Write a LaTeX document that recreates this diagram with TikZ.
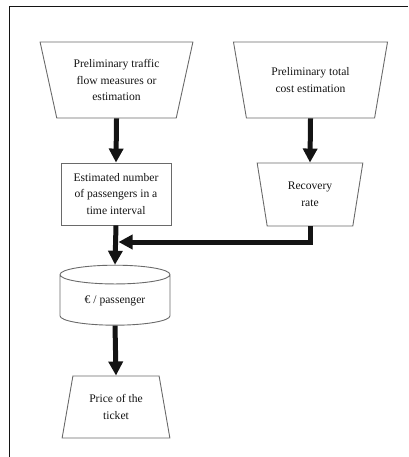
\documentclass[tikz,border=0pt]{standalone}
\usepackage{fontspec}
\setmainfont{Liberation Serif}
\usepackage{xcolor}
\usepackage{tikz}
\usetikzlibrary{arrows.meta,shapes.geometric}
\definecolor{edge}{HTML}{6A6A6A}
\definecolor{ink}{HTML}{141414}
\tikzset{
  box/.style={draw=edge, line width=0.9pt, text=ink, align=center, inner sep=1pt,
    font=\fontsize{11.6}{16.5}\selectfont},
  trap/.style={box, trapezium, trapezium stretches=true},
  flow/.style={draw=ink, line width=5pt, -{Triangle[length=14pt,width=14pt]}},
  frame/.style={draw=ink, line width=1pt},
}
\begin{document}
\begin{tikzpicture}[x=1pt,y=-1pt]
  \useasboundingbox (0,0) rectangle (408,457);
  \draw[frame] (9,457) -- (9,7) -- (408,7);
  % inputs
  \node[trap, shape border rotate=180, minimum width=153pt, minimum height=76pt,
    trapezium left angle=74.2, trapezium right angle=74.2] (traffic) at (116.5,80)
    {Preliminary traffic\\flow measures or\\estimation};
  \node[trap, shape border rotate=180, minimum width=155pt, minimum height=76pt,
    trapezium left angle=73.1, trapezium right angle=73.1] (cost) at (310.5,80)
    {Preliminary total\\cost estimation};
  \node[box, rectangle, minimum width=110pt, minimum height=62pt] (pass) at (116,194)
    {Estimated number\\of passengers in a\\time interval};
  \node[trap, shape border rotate=180, minimum width=106pt, minimum height=63pt,
    trapezium left angle=78.3, trapezium right angle=78.3] (rate) at (310,194.5)
    {Recovery\\rate};
  \node[box, cylinder, shape border rotate=90, aspect=0.3, minimum width=110pt,
    minimum height=60pt] (eur) at (115,301) {€ / passenger};
  \node[trap, minimum width=108pt, minimum height=62pt,
    trapezium left angle=75.5, trapezium right angle=75.5] (price) at (116,407)
    {Price of the\\ticket};
  % arrows
  \coordinate (join) at (118.5,242);
  \draw[flow] (traffic.south) -- (pass.north);
  \draw[flow] (cost.south) -- (rate.north);
  \draw[flow] (rate.south) |- (join);
  \draw[flow] (pass.south) -- (eur.north);
  \draw[flow] (eur.south) -- (price.north);
\end{tikzpicture}
\end{document}
